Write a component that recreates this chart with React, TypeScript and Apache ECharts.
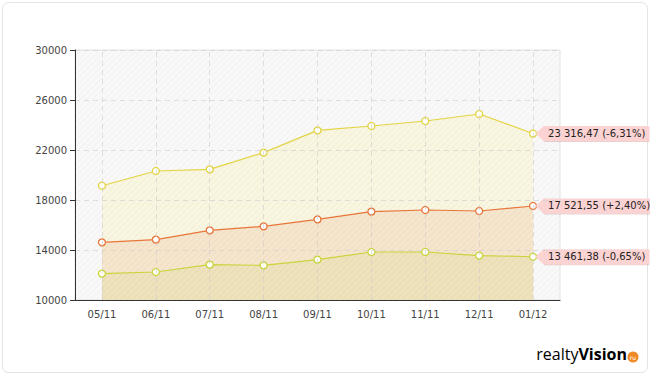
import React, { useEffect, useRef } from "react";
import * as echarts from "echarts";

const categories = ["05/11", "06/11", "07/11", "08/11", "09/11", "10/11", "11/11", "12/11", "01/12"];
const topSeries = [19140, 20320, 20450, 21790, 23570, 23920, 24320, 24880, 23316.47];
const midSeries = [14610, 14830, 15570, 15890, 16450, 17070, 17200, 17120, 17521.55];
const lowSeries = [12110, 12240, 12830, 12770, 13230, 13840, 13840, 13550, 13461.38];
const lastChanges = [-6.31, 2.4, -0.65];
const yTicks = { min: 10000, max: 30000, interval: 4000 };

const FONT = "DejaVu Sans";

function fmtNum(v: number): string {
  const [i, d] = v.toFixed(2).split(".");
  const grouped = i.replace(/\B(?=(\d{3})+(?!\d))/g, " ");
  return grouped + "," + d;
}
function fmtPct(p: number): string {
  const s = (p >= 0 ? "+" : "-") + Math.abs(p).toFixed(2).replace(".", ",") + "%";
  return "(" + s + ")";
}

function hatch(base: string, line: string): any {
  const c = document.createElement("canvas");
  c.width = 6;
  c.height = 6;
  const ctx = c.getContext("2d")!;
  ctx.fillStyle = base;
  ctx.fillRect(0, 0, 6, 6);
  ctx.strokeStyle = line;
  ctx.lineWidth = 1;
  ctx.beginPath();
  ctx.moveTo(0, 6);
  ctx.lineTo(6, 0);
  ctx.moveTo(-3, 3);
  ctx.lineTo(3, -3);
  ctx.moveTo(3, 9);
  ctx.lineTo(9, 3);
  ctx.stroke();
  return { image: c, repeat: "repeat" };
}

export default function App() {
  const ref = useRef<HTMLDivElement>(null);
  useEffect(() => {
    const chart = echarts.init(ref.current!, null, { renderer: "svg" });
    const defs = [
      { name: "top", data: topSeries, color: "#e3d444", area: hatch("#f8f4dc", "#f2edd0"), chg: lastChanges[0] },
      { name: "mid", data: midSeries, color: "#e8763a", area: hatch("#f4e2c8", "#eddabd"), chg: lastChanges[1] },
      { name: "low", data: lowSeries, color: "#c9d43c", area: hatch("#ede2ba", "#e6d9ae"), chg: lastChanges[2] },
    ];
    const series: any[] = defs.map((d, idx) => ({
      type: "line",
      name: d.name,
      data: d.data,
      z: 2 + idx,
      symbol: "circle",
      symbolSize: 7,
      showAllSymbol: true,
      lineStyle: { color: d.color, width: 1.2 },
      itemStyle: { color: "#ffffff", borderColor: d.color, borderWidth: 1.3 },
      areaStyle: { color: d.area, opacity: 0.85, origin: "start" },
      emphasis: { disabled: true },
      endLabel: {
        show: true,
        distance: 11,
        formatter: (p: any) => fmtNum(p.value) + " " + fmtPct(d.chg),
        fontFamily: FONT,
        fontSize: 10,
        color: "#222",
        backgroundColor: "#fcd3d3",
        padding: [3, 4, 2, 4],
        shadowColor: "rgba(200,120,120,0.35)",
        shadowOffsetY: 1,
        shadowBlur: 1,
      },
      markPoint: {
        silent: true,
        symbol: "triangle",
        symbolSize: [17, 9],
        symbolRotate: 90,
        symbolOffset: [7, 0],
        itemStyle: { color: "#fcd3d3" },
        label: { show: false },
        data: [{ coord: [categories.length - 1, d.data[d.data.length - 1]] }],
      },
    }));
    series.push({
      type: "line",
      data: [],
      z: 10,
      silent: true,
      markLine: {
        silent: true,
        symbol: "none",
        label: { show: false },
        lineStyle: { color: "rgba(200,200,200,0.55)", type: [5, 4], width: 1 },
        data: categories.map((c) => ({ xAxis: c })),
      },
    });
    chart.setOption({
      animation: false,
      backgroundColor: "#ffffff",
      textStyle: { fontFamily: FONT },
      grid: {
        left: 75,
        right: 90,
        top: 50,
        bottom: 75,
        show: true,
        borderColor: "#e2e2e2",
        borderWidth: 1,
        backgroundColor: hatch("#f8f8f8", "#f1f1f1"),
      },
      xAxis: {
        type: "category",
        data: categories,
        boundaryGap: true,
        z: 14,
        axisLine: { lineStyle: { color: "#333", width: 1 } },
        axisTick: { alignWithLabel: true, length: 5, lineStyle: { color: "#333" } },
        axisLabel: { color: "#444", fontSize: 10, fontFamily: FONT, margin: 9 },
        splitLine: { show: false },
      },
      yAxis: {
        type: "value",
        min: yTicks.min,
        max: yTicks.max,
        interval: yTicks.interval,
        z: 12,
        axisLine: { show: true, lineStyle: { color: "#333", width: 1 } },
        axisTick: { show: true, length: 5, lineStyle: { color: "#333" } },
        axisLabel: {
          color: "#444",
          fontSize: 10,
          fontFamily: FONT,
          margin: 8,
          formatter: (v: number) => String(v),
        },
        splitLine: { show: true, lineStyle: { color: "rgba(205,205,205,0.6)", type: [5, 4] } },
      },
      graphic: [
        {
          type: "rect",
          silent: true,
          shape: { x: 2.5, y: 2.5, width: 645, height: 370, r: 6 },
          style: { fill: "none", stroke: "#e4e4e4", lineWidth: 1 },
          z: -1,
        },
        {
          type: "text",
          right: 23,
          bottom: 13,
          style: {
            text: "{a|realty}{b|Vision}",
            rich: {
              a: { fontFamily: "Open Sans", fontSize: 16, color: "#333" },
              b: { fontFamily: "Open Sans", fontSize: 16, fontWeight: "bold", color: "#333" },
            },
          },
        },
        {
          type: "circle",
          shape: { cx: 633, cy: 357, r: 5.5 },
          style: { fill: "#f08a24" },
        },
        {
          type: "text",
          x: 633,
          y: 357,
          style: { text: "ru", fontSize: 6, fill: "#fff", align: "center", verticalAlign: "middle", fontFamily: FONT },
        },
      ],
      series,
    });
    return () => chart.dispose();
  }, []);
  return (
    <div
      ref={ref}
      style={{ position: "fixed", left: 0, top: 0, width: 650, height: 375 }}
    />
  );
}
